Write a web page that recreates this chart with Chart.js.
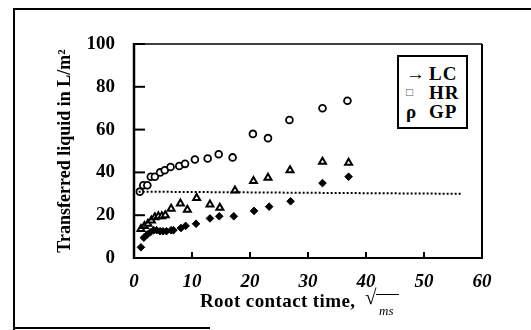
<!DOCTYPE html>
<html>
<head>
<meta charset="utf-8">
<script src="https://cdn.jsdelivr.net/npm/chart.js@4/dist/chart.umd.min.js"></script>
<style>
  html, body { margin: 0; padding: 0; background: #fff; }
  #wrap { position: relative; width: 531px; height: 330px; overflow: hidden; font-family: "Liberation Serif", "DejaVu Serif", serif; }
  #myChart { position: absolute; left: 0; top: 0; }
  .line { position: absolute; background: #000; }
  #legendBox { position: absolute; left: 397px; top: 55px; width: 71px; height: 74px; box-sizing: border-box;
               border: 2px solid #000; background: #fff; font-weight: bold; font-size: 19px; }
  #legendBox div { position: absolute; left: 0; height: 19px; line-height: 19px; width: 67px; }
  #legendBox .sym { position: absolute; left: 7px; }
  #legendBox .lab { position: absolute; left: 30px; letter-spacing: 1px; }
  #xTitle { position: absolute; left: 200px; top: 290px; font-weight: bold; font-size: 19px; letter-spacing: 0.4px; white-space: nowrap; }
  #radical { position: absolute; left: 365px; top: 285px; font-size: 21px; }
  #radBar { position: absolute; left: 376px; top: 294px; width: 23px; height: 1px; background: #000; }
  #radMs { position: absolute; left: 379px; top: 303px; font-size: 13px; font-style: italic; }
</style>
</head>
<body>
<div id="wrap">
  <canvas id="myChart" width="531" height="330"></canvas>
  <div class="line" style="left:13px; top:8px; width:2px; height:322px;"></div>
  <div class="line" style="left:13px; top:8px; width:518px; height:2px;"></div>
  <div class="line" style="left:13px; top:327px; width:197px; height:2px;"></div>
  <div id="legendBox">
    <div style="top:7px;"><span class="sym">→</span><span class="lab">LC</span></div>
    <div style="top:26px;"><span class="sym" style="font-weight:normal; font-size:12px; color:#555;">□</span><span class="lab">HR</span></div>
    <div style="top:45px;"><span class="sym">ρ</span><span class="lab">GP</span></div>
  </div>
  <div id="xTitle">Root contact time,</div>
  <div id="radical">√</div>
  <div id="radBar"></div>
  <div id="radMs">ms</div>
</div>
<script>
// Values
var circleX = [1.0, 1.6, 2.3, 2.9, 3.6, 4.5, 5.3, 6.3, 7.8, 8.8, 10.5, 12.7, 14.6, 17.0, 20.5, 23.1, 26.8, 32.5, 36.8];
var circleY = [31, 34, 34, 38, 38, 40, 41, 42.5, 43, 44, 46, 46.5, 48.5, 47, 58, 56, 64.5, 70, 73.5];

var triX = [1.2, 1.8, 2.4, 3.0, 3.6, 4.2, 4.8, 5.4, 6.4, 8.0, 9.2, 10.8, 13.1, 14.8, 17.4, 20.6, 23.1, 26.9, 32.5, 37.0];
var triY = [13.5, 15, 16, 17.5, 19, 19.5, 19.5, 20, 23, 25.5, 22.5, 28, 25, 23.5, 31.5, 36, 37.5, 41, 45, 44.5];

var diaX = [1.2, 1.7, 2.3, 2.8, 3.4, 3.9, 4.5, 5.0, 5.6, 6.4, 6.8, 8.1, 8.9, 10.7, 13.1, 14.7, 17.2, 20.7, 23.3, 27.0, 32.5, 37.0];
var diaY = [5, 9.5, 11, 12, 13, 13, 12.5, 12.5, 12.5, 13, 13, 14, 15, 16, 18.5, 19.5, 19.5, 22, 24, 26.5, 35, 38];

var refX = [0.8, 56.6];
var refY = [31, 30];

function pts(xs, ys) {
    return xs.map(function (x, i) { return { x: x, y: ys[i] }; });
}

// inward tick marks and the box round the plot
var axisMarks = {
    id: 'axisMarks',
    afterDatasetsDraw: function (chart) {
        var ctx = chart.ctx, a = chart.chartArea;
        var xs = chart.scales.x, ys = chart.scales.y;
        ctx.save();
        ctx.strokeStyle = '#000';
        ctx.lineWidth = 2;
        ys.ticks.forEach(function (t) {
            var y = ys.getPixelForValue(t.value);
            ctx.beginPath(); ctx.moveTo(a.left, y); ctx.lineTo(a.left + 11, y); ctx.stroke();
        });
        xs.ticks.forEach(function (t) {
            var x = xs.getPixelForValue(t.value);
            ctx.beginPath(); ctx.moveTo(x, a.bottom); ctx.lineTo(x, a.bottom - 6); ctx.stroke();
        });
        ctx.lineWidth = 1.5;
        ctx.beginPath(); ctx.moveTo(a.left, a.top); ctx.lineTo(a.right, a.top); ctx.stroke();
        ctx.lineWidth = 2;
        ctx.beginPath(); ctx.moveTo(a.right, a.top); ctx.lineTo(a.right, a.bottom); ctx.stroke();
        ctx.beginPath(); ctx.moveTo(a.left - 1, a.bottom); ctx.lineTo(a.right + 1, a.bottom); ctx.stroke();
        ctx.lineWidth = 2.5;
        ctx.beginPath(); ctx.moveTo(a.left, a.top - 1); ctx.lineTo(a.left, a.bottom + 1); ctx.stroke();
        ctx.restore();
    }
};

var ctx = document.getElementById('myChart').getContext('2d');
new Chart(ctx, {
    type: 'scatter',
    data: {
        datasets: [{
            label: 'reference',
            data: pts(refX, refY),
            showLine: true,
            borderColor: '#000',
            borderWidth: 2,
            borderDash: [2, 2],
            pointRadius: 0
        }, {
            label: 'LC',
            data: pts(circleX, circleY),
            pointStyle: 'circle',
            pointRadius: 3.4,
            borderWidth: 1.8,
            borderColor: '#000',
            backgroundColor: '#fff'
        }, {
            label: 'HR',
            data: pts(triX, triY),
            pointStyle: 'triangle',
            pointRadius: 4,
            borderWidth: 2,
            borderColor: '#000',
            backgroundColor: '#fff'
        }, {
            label: 'GP',
            data: pts(diaX, diaY),
            pointStyle: 'rectRot',
            pointRadius: 3.8,
            borderWidth: 1,
            borderColor: '#000',
            backgroundColor: '#000'
        }]
    },
    options: {
        responsive: false,
        animation: false,
        layout: { padding: { top: 44, right: 49, left: 0, bottom: 0 } },
        plugins: {
            legend: { display: false },
            tooltip: { enabled: false }
        },
        scales: {
            x: {
                type: 'linear',
                min: 0,
                max: 60,
                grid: { display: false },
                border: { display: false },
                ticks: {
                    stepSize: 10,
                    padding: 5,
                    color: '#000',
                    font: { family: 'Liberation Serif', size: 19, weight: 'bold', style: 'italic' }
                },
                afterFit: function (scale) { scale.height = 72; }
            },
            y: {
                min: 0,
                max: 100,
                grid: { display: false },
                border: { display: false },
                ticks: {
                    stepSize: 20,
                    padding: 11,
                    color: '#000',
                    font: { family: 'Liberation Serif', size: 19, weight: 'bold' }
                },
                title: {
                    display: true,
                    text: 'Transferred liquid in L/m²',
                    color: '#000',
                    padding: { top: 55, bottom: 0 },
                    font: { family: 'Liberation Serif', size: 18, weight: 'bold' }
                },
                afterFit: function (scale) { scale.width = 134; }
            }
        }
    },
    plugins: [axisMarks]
});
</script>
</body>
</html>
